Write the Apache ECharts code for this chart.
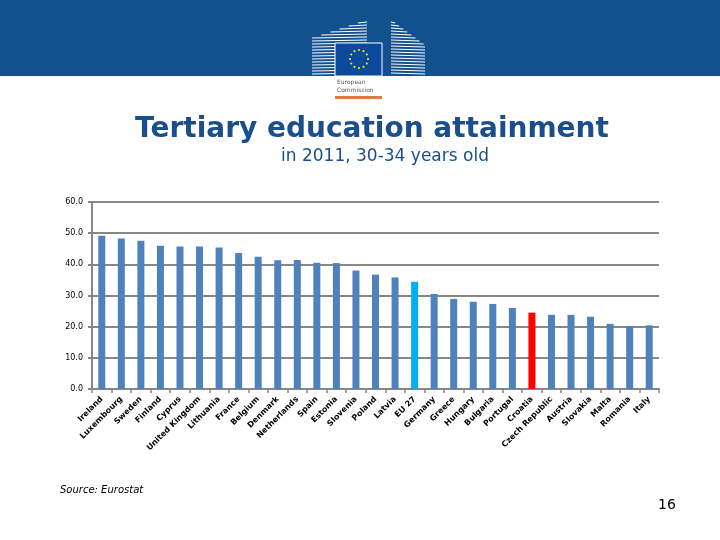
<!DOCTYPE html>
<html>
<head>
<meta charset="utf-8">
<script src="https://cdn.jsdelivr.net/npm/echarts@6/dist/echarts.min.js"></script>
<style>
html,body{margin:0;padding:0;background:#fff;}
#main{width:720px;height:540px;}
</style>
</head>
<body>
<div id="main"></div>
<script>
const categories = ['Ireland','Luxembourg','Sweden','Finland','Cyprus','United Kingdom','Lithuania','France','Belgium','Denmark','Netherlands','Spain','Estonia','Slovenia','Poland','Latvia','EU 27','Germany','Greece','Hungary','Bulgaria','Portugal','Croatia','Czech Republic','Austria','Slovakia','Malta','Romania','Italy'];
const values = [49.2,48.3,47.6,46.0,45.7,45.7,45.4,43.6,42.4,41.3,41.4,40.5,40.4,38.0,36.7,35.8,34.4,30.5,28.9,28.0,27.3,26.0,24.5,23.8,23.8,23.2,20.9,20.1,20.4];
const yTicks = [0,10,20,30,40,50,60];
const titleText = 'Tertiary education attainment';
const subtitleText = 'in 2011, 30-34 years old';
const sourceText = 'Source: Eurostat';
const pageNumber = '16';

const highlight = {'EU 27':'#00b0f0','Croatia':'#ff0000'};
const baseColor = '#4f81bd';

const chart = echarts.init(document.getElementById('main'), null, {renderer:'canvas'});

// decorative logo lines
const logo = [];
for (let y = 20; y <= 75; y += 3) {
  const xl = Math.max(312, 367 - (y - 20) * 3.05);
  if (xl < 367) logo.push({type:'line', shape:{x1:xl,y1:y,x2:367,y2:y-1}, style:{stroke:'#ffffff',lineWidth:1.2}, silent:true});
  const xr = Math.min(425, 391 + (y - 20) * 1.36);
  if (xr > 391) logo.push({type:'line', shape:{x1:391,y1:y-1,x2:xr,y2:y}, style:{stroke:'#ffffff',lineWidth:1.2}, silent:true});
}
const stars = [];
for (let k = 0; k < 12; k++) {
  const a = k * Math.PI / 6;
  stars.push({type:'circle', shape:{cx:359 + 9*Math.cos(a), cy:59 + 9*Math.sin(a), r:1.1}, style:{fill:'#ffe600'}, silent:true});
}

const option = {
  backgroundColor:'#ffffff',
  animation:false,
  grid:{left:92, right:61, top:202, bottom:151, containLabel:false},
  xAxis:{
    type:'category',
    data:categories,
    boundaryGap:true,
    axisLine:{show:true, lineStyle:{color:'#878787', width:2}},
    axisTick:{show:true, alignWithLabel:false, length:4, lineStyle:{color:'#878787', width:1.5}},
    axisLabel:{interval:0, rotate:45, fontFamily:'DejaVu Sans', fontSize:8, fontWeight:'bold', color:'#000', margin:9}
  },
  yAxis:{
    type:'value',
    min:0, max:60, interval:10,
    axisLine:{show:true, lineStyle:{color:'#878787', width:2}},
    axisTick:{show:true, length:4, lineStyle:{color:'#878787', width:2}},
    splitLine:{show:true, lineStyle:{color:'#878787', width:2}},
    axisLabel:{fontFamily:'DejaVu Sans', fontSize:8, color:'#000', margin:9,
      formatter:function(v){ return yTicks.indexOf(v) >= 0 ? v.toFixed(1) : ''; }}
  },
  series:[{
    type:'bar',
    data:values,
    barWidth:7,
    itemStyle:{color:function(p){ return highlight[categories[p.dataIndex]] || baseColor; }}
  }],
  graphic:[
    {type:'rect', shape:{x:0,y:0,width:720,height:76}, style:{fill:'#12508e'}, silent:true, z:-1},
    ...logo,
    {type:'rect', shape:{x:335,y:43,width:47,height:33}, style:{fill:'#0b4a9a', stroke:'#ffffff', lineWidth:1}, silent:true},
    ...stars,
    {type:'text', left:337, top:79, style:{text:'European', fontSize:6, fill:'#555', fontFamily:'DejaVu Sans'}, silent:true},
    {type:'text', left:337, top:87, style:{text:'Commission', fontSize:6, fill:'#555', fontFamily:'DejaVu Sans'}, silent:true},
    {type:'rect', shape:{x:335,y:96,width:47,height:3}, style:{fill:'#e07b39'}, silent:true},
    {type:'text', x:372, y:130, style:{text:titleText, fontSize:28, fontWeight:'bold', fontFamily:'DejaVu Sans', fill:'#1a4f8b', align:'center', verticalAlign:'middle'}, silent:true},
    {type:'text', x:385, y:157, style:{text:subtitleText, fontSize:17, fontFamily:'DejaVu Sans', fill:'#1a4f8b', align:'center', verticalAlign:'middle'}, silent:true},
    {type:'text', x:60, y:490, style:{text:sourceText, fontSize:10, fontStyle:'italic', fontFamily:'DejaVu Sans', fill:'#000', align:'left', verticalAlign:'middle'}, silent:true},
    {type:'text', x:667, y:505, style:{text:pageNumber, fontSize:14, fontFamily:'DejaVu Sans', fill:'#000', align:'center', verticalAlign:'middle'}, silent:true}
  ]
};
chart.setOption(option);
</script>
</body>
</html>
